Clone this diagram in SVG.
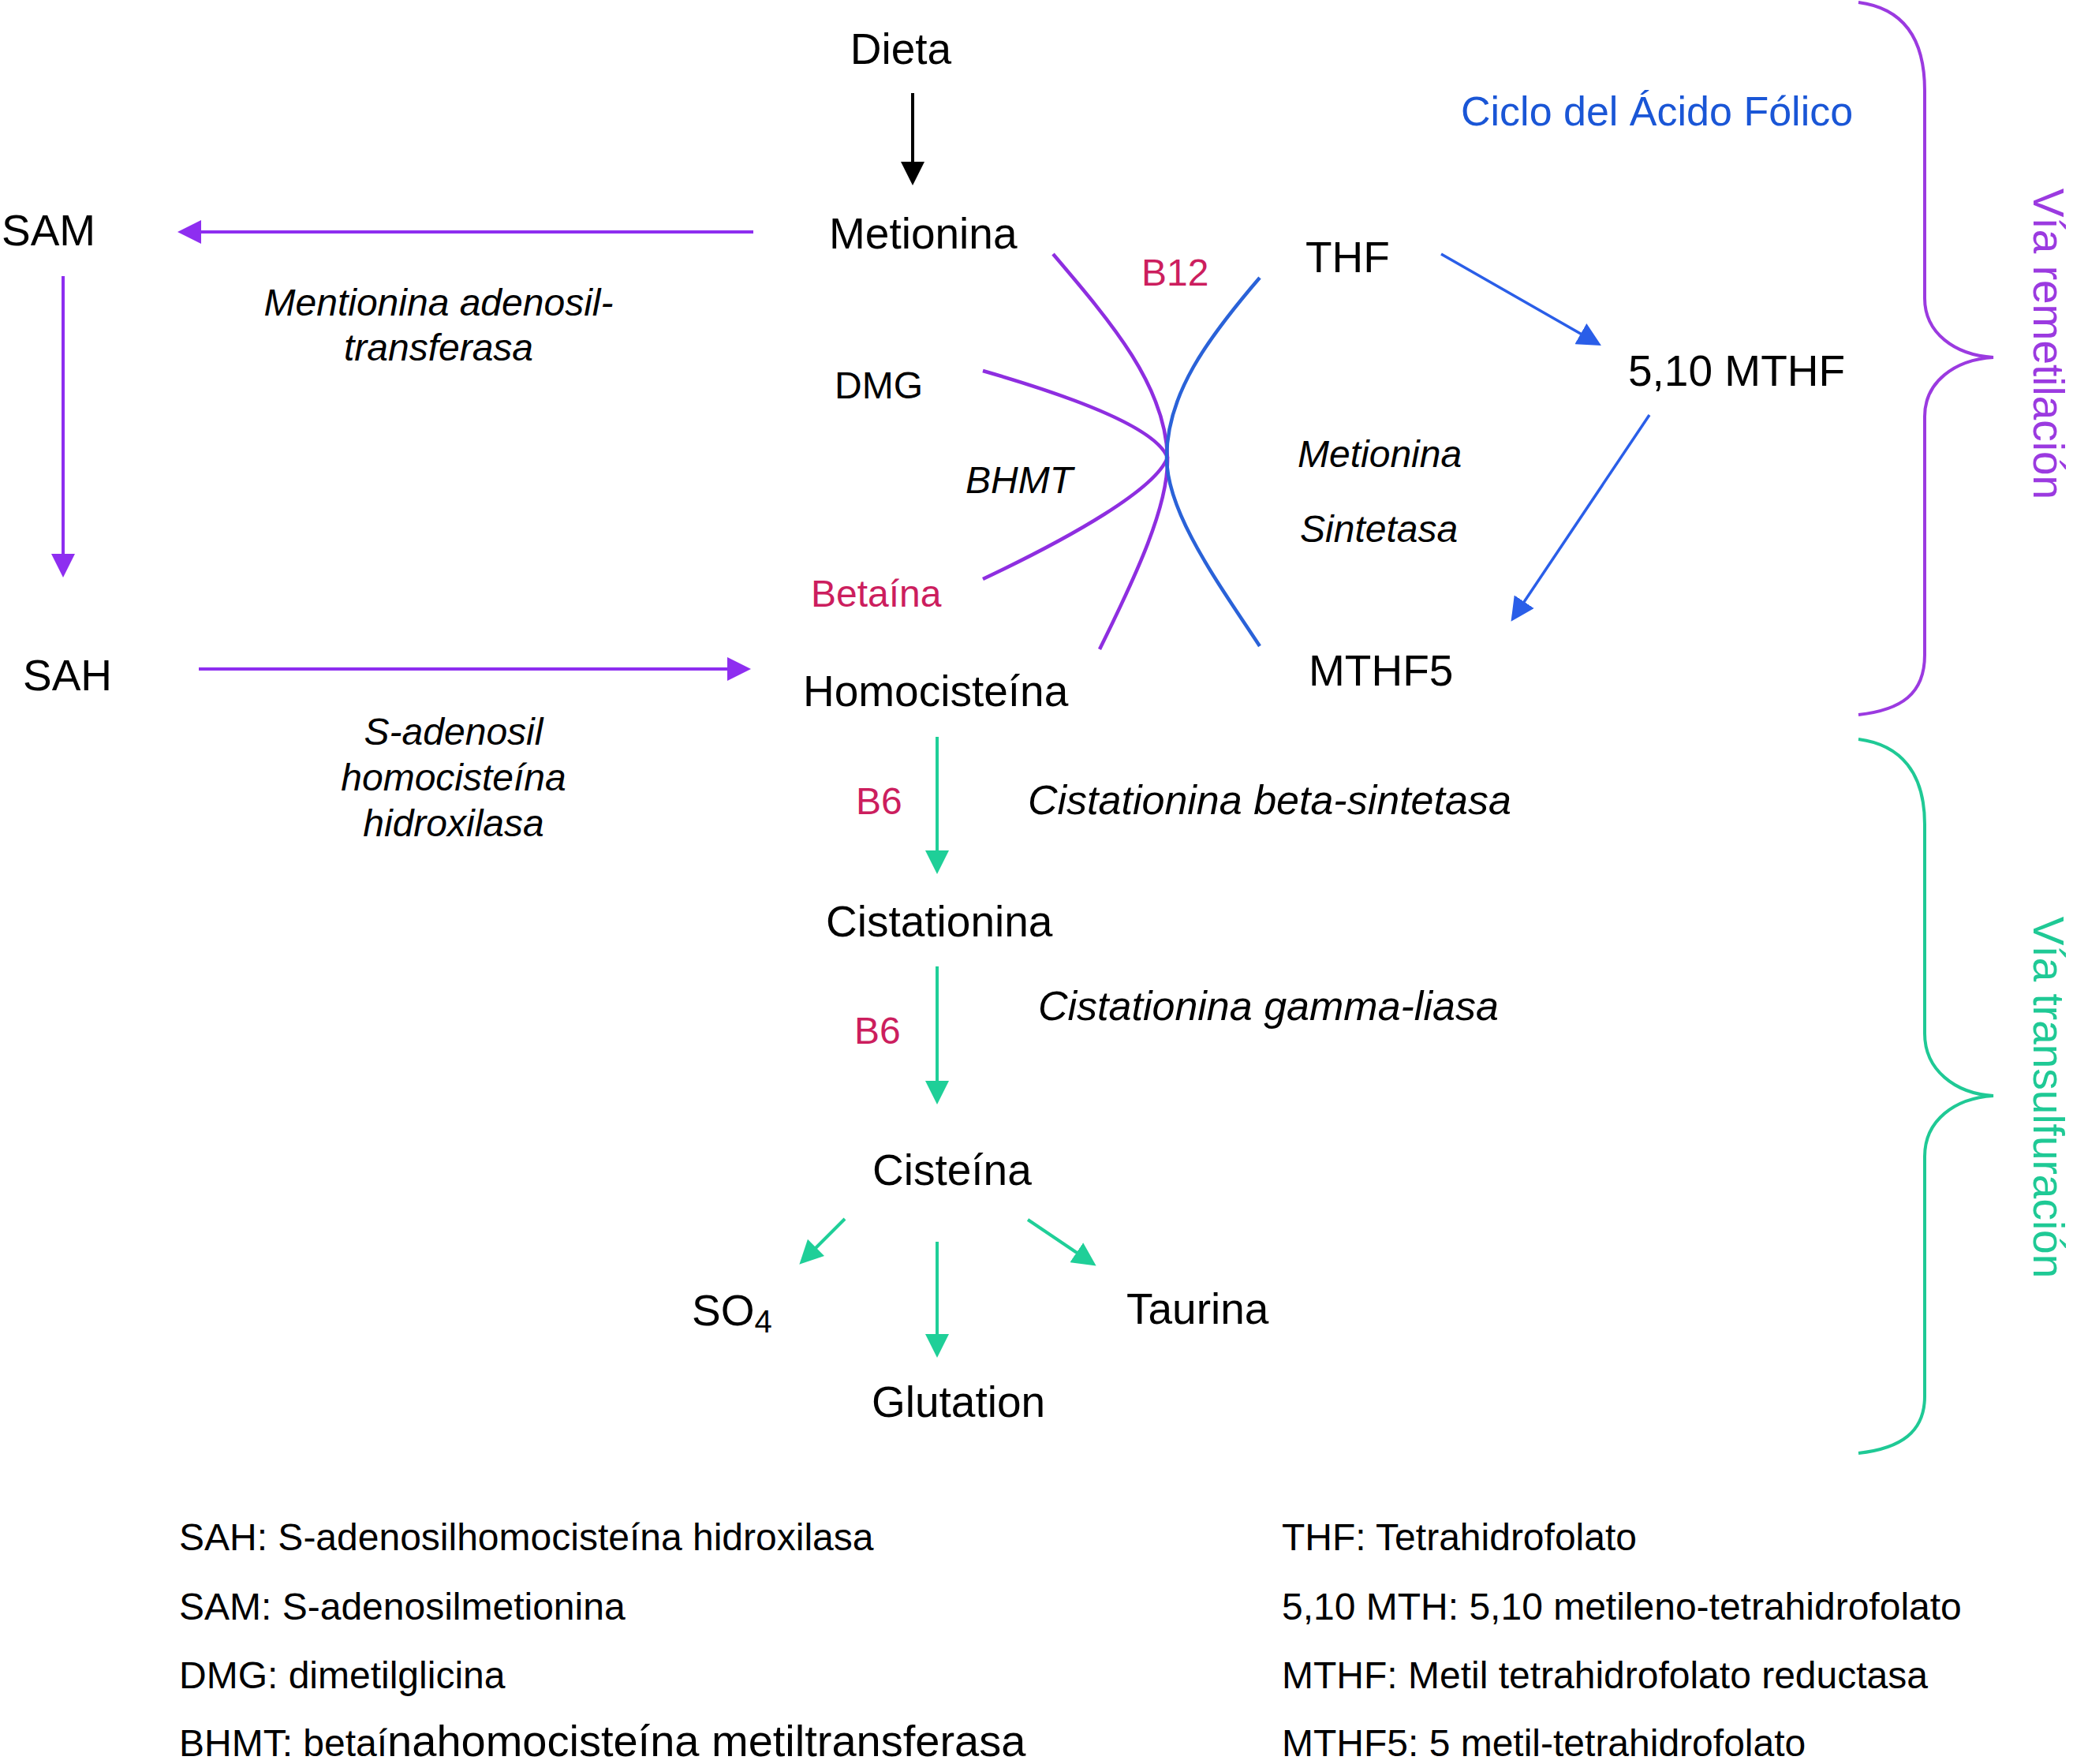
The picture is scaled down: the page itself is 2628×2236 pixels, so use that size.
<svg xmlns="http://www.w3.org/2000/svg" width="2628" height="2236" viewBox="0 0 2628 2236">
<style>
text{font-family:"Liberation Sans",Arial,Helvetica,sans-serif;fill:#000}
.lg{font-size:55px}
.md{font-size:48px}
.en{font-size:52px}
.it{font-style:italic}
.red{fill:#cc1e5e}
.blue{fill:#1a56d6}
.pur{fill:#9b3ae0}
.teal{fill:#1fc995}
.c{text-anchor:middle}
.ln{fill:none;stroke-linecap:butt}
.kp{stroke:#8e2ef0;stroke-width:4}
.kb{stroke:#2a5ee8;stroke-width:3.5}
.kt{stroke:#1fcf98;stroke-width:4}
.kk{stroke:#000;stroke-width:4}
.cv{fill:none;stroke-width:4.5}
.br{fill:none;stroke-width:4}
</style>
<defs>
<marker id="hp" markerUnits="userSpaceOnUse" markerWidth="30" markerHeight="30" refX="22" refY="15" orient="auto"><path d="M0,0 L30,15 L0,30 z" fill="#8e2ef0"/></marker>
<marker id="hb" markerUnits="userSpaceOnUse" markerWidth="30" markerHeight="30" refX="22" refY="15" orient="auto"><path d="M0,0 L30,15 L0,30 z" fill="#2a5ee8"/></marker>
<marker id="ht" markerUnits="userSpaceOnUse" markerWidth="30" markerHeight="30" refX="22" refY="15" orient="auto"><path d="M0,0 L30,15 L0,30 z" fill="#1fcf98"/></marker>
<marker id="hk" markerUnits="userSpaceOnUse" markerWidth="30" markerHeight="30" refX="22" refY="15" orient="auto"><path d="M0,0 L30,15 L0,30 z" fill="#000"/></marker>
</defs>
<rect width="2628" height="2236" fill="#fff"/>

<g id="connectors">
<line class="ln kk" x1="1157" y1="118" x2="1157" y2="227" marker-end="url(#hk)"/>
<line class="ln kp" x1="955" y1="294" x2="233" y2="294" marker-end="url(#hp)"/>
<line class="ln kp" x1="80" y1="350" x2="80" y2="724" marker-end="url(#hp)"/>
<line class="ln kp" x1="252" y1="848" x2="944" y2="848" marker-end="url(#hp)"/>
<line class="ln kb" x1="1827" y1="322" x2="2023" y2="434" marker-end="url(#hb)"/>
<line class="ln kb" x1="2091" y1="526" x2="1920" y2="781" marker-end="url(#hb)"/>
<line class="ln kt" x1="1188" y1="934" x2="1188" y2="1100" marker-end="url(#ht)"/>
<line class="ln kt" x1="1188" y1="1225" x2="1188" y2="1392" marker-end="url(#ht)"/>
<line class="ln kt" x1="1071" y1="1545" x2="1019" y2="1597" marker-end="url(#ht)"/>
<line class="ln kt" x1="1188" y1="1574" x2="1188" y2="1713" marker-end="url(#ht)"/>
<line class="ln kt" x1="1303" y1="1546" x2="1383" y2="1600" marker-end="url(#ht)"/>
<path class="cv" stroke="#8e2ee0" d="M1335,322 C1410,410 1478,490 1480,580 C1482,640 1440,730 1394,823"/>
<path class="cv" stroke="#8e2ee0" d="M1246,470 C1350,500 1465,540 1480,580 C1465,620 1360,680 1246,734"/>
<path class="cv" stroke="#2a62d8" stroke-width="3.5" d="M1597,352 C1530,430 1479,500 1479,580 C1479,650 1545,740 1597,819"/>
</g>

<g id="braces">
<path class="br" stroke="#9b3ae0" d="M2356,3 C2410,10 2440,45 2440,115 L2440,378 C2440,422 2478,450 2527,453 C2478,456 2440,484 2440,528 L2440,830 C2440,880 2410,900 2356,906"/>
<path class="br" stroke="#1fc995" d="M2356,937 C2410,944 2440,980 2440,1045 L2440,1310 C2440,1356 2478,1386 2527,1389 C2478,1392 2440,1420 2440,1466 L2440,1770 C2440,1815 2410,1836 2356,1842"/>
</g>

<g id="n-dieta"><text class="lg c" x="1142" y="81">Dieta</text></g>
<g id="n-metionina"><text class="lg" x="1051" y="315">Metionina</text></g>
<g id="n-sam"><text class="lg" x="2" y="311">SAM</text></g>
<g id="n-sah"><text class="lg" x="29" y="875">SAH</text></g>
<g id="n-homocisteina"><text class="lg" x="1018" y="895">Homocisteína</text></g>
<g id="n-dmg"><text class="md" x="1058" y="505">DMG</text></g>
<g id="n-bhmt"><text class="md it" x="1224" y="625">BHMT</text></g>
<g id="n-betaina"><text class="md red" x="1028" y="769">Betaína</text></g>
<g id="n-b12"><text class="md red" x="1447" y="362">B12</text></g>
<g id="n-thf"><text class="lg" x="1655" y="345">THF</text></g>
<g id="n-ciclo"><text class="en blue" x="1852" y="159">Ciclo del Ácido Fólico</text></g>
<g id="n-510mthf"><text class="lg" x="2064" y="489">5,10 MTHF</text></g>
<g id="n-ms"><text class="md it" x="1645" y="592">Metionina</text><text class="md it" x="1648" y="687">Sintetasa</text></g>
<g id="n-mthf5"><text class="lg" x="1659" y="869">MTHF5</text></g>
<g id="n-mat"><text class="md it c" x="556" y="400">Mentionina adenosil-</text><text class="md it c" x="556" y="457">transferasa</text></g>
<g id="n-sahh"><text class="md it c" x="575" y="944">S-adenosil</text><text class="md it c" x="575" y="1002">homocisteína</text><text class="md it c" x="575" y="1060">hidroxilasa</text></g>
<g id="n-b6a"><text class="md red" x="1085" y="1032">B6</text></g>
<g id="n-cbs"><text class="en it" x="1303" y="1032">Cistationina beta-sintetasa</text></g>
<g id="n-cistationina"><text class="lg" x="1047" y="1187">Cistationina</text></g>
<g id="n-b6b"><text class="md red" x="1083" y="1323">B6</text></g>
<g id="n-cgl"><text class="en it" x="1316" y="1293">Cistationina gamma-liasa</text></g>
<g id="n-cisteina"><text class="lg" x="1106" y="1502">Cisteína</text></g>
<g id="n-so4"><text class="lg" x="877" y="1680">SO<tspan font-size="40" dy="9">4</tspan></text></g>
<g id="n-taurina"><text class="lg" x="1428" y="1678">Taurina</text></g>
<g id="n-glutation"><text class="lg" x="1105" y="1796">Glutation</text></g>

<g id="n-via-rem"><text class="lg pur c" transform="translate(2578,436) rotate(90)">Vía remetilación</text></g>
<g id="n-via-trans"><text class="lg teal c" transform="translate(2578,1391) rotate(90)">Vía transulfuración</text></g>

<g id="legend">
<text class="md" x="227" y="1965">SAH: S-adenosilhomocisteína hidroxilasa</text>
<text class="md" x="227" y="2053">SAM: S-adenosilmetionina</text>
<text class="md" x="227" y="2140">DMG: dimetilglicina</text>
<text class="md" x="227" y="2226">BHMT: betaí<tspan font-size="56">nahomocisteína metiltransferasa</tspan></text>
<text class="md" x="1625" y="1965">THF: Tetrahidrofolato</text>
<text class="md" x="1625" y="2053">5,10 MTH: 5,10 metileno-tetrahidrofolato</text>
<text class="md" x="1625" y="2140">MTHF: Metil tetrahidrofolato reductasa</text>
<text class="md" x="1625" y="2226">MTHF5: 5 metil-tetrahidrofolato</text>
</g>
</svg>
